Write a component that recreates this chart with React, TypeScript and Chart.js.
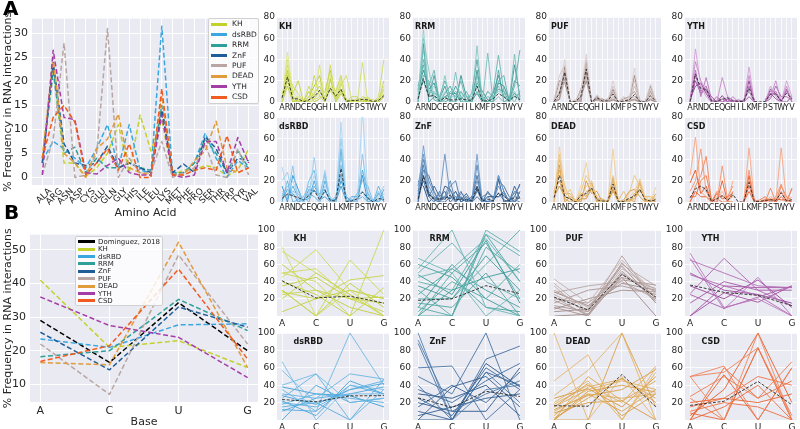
import React, { useEffect, useRef } from "react";
import { Chart, registerables } from "chart.js";
Chart.register(...registerables);

// ---------------- categories & ticks ----------------
const AMINO_ACIDS = ["ALA", "ARG", "ASN", "ASP", "CYS", "GLU", "GLN", "GLY", "HIS", "ILE", "LEU", "LYS", "MET", "PHE", "PRO", "SER", "THR", "TRP", "TYR", "VAL"];
const AA_LETTERS = ["A", "R", "N", "D", "C", "E", "Q", "G", "H", "I", "L", "K", "M", "F", "P", "S", "T", "W", "Y", "V"];
const BASES = ["A", "C", "U", "G"];
const FAMILIES = ["KH", "dsRBD", "RRM", "ZnF", "PUF", "DEAD", "YTH", "CSD"];
const AA_Y_TICKS = [0, 5, 10, 15, 20, 25, 30];
const BASE_Y_TICKS = [10, 20, 30, 40, 50];
const SMALL_AA_Y_TICKS = [0, 20, 40, 60, 80];
const SMALL_BASE_Y_TICKS = [0, 20, 40, 60, 80, 100];

// ---------------- panel A: family means (% per amino acid) ----------------
const KH_AA = [4, 23.5, 3, 3, 0.2, 2, 5, 11, 1, 13, 5.5, 12, 0.5, 1.5, 1.5, 2.5, 2, 0.3, 1.5, 6];
const DSRBD_AA = [3.5, 7.5, 6, 4, 2, 6, 11, 2, 11, 1.5, 1, 31.5, 0.5, 1, 3, 9.2, 4, 0, 3.5, 2];
const RRM_AA = [3, 22, 5, 6.3, 1, 4, 2, 2, 3, 2, 1.5, 15, 1, 1, 3, 8, 5, 1, 5.5, 2];
const ZNF_AA = [3, 24, 7, 3, 2.5, 3, 6.5, 2, 3, 2, 1, 14, 1, 2.8, 1, 8.5, 6, 1, 4, 3.5];
const PUF_AA = [0.5, 8, 28, 0, 0.5, 5, 31, 0, 4, 1, 1, 7.5, 0, 1, 2, 7, 0.5, 0, 6, 0.5];
const DEAD_AA = [4, 25, 5, 3, 0, 6, 8, 13.2, 2, 1, 0.5, 17, 0.5, 0.5, 3.5, 5.5, 11.7, 2, 1, 2];
const YTH_AA = [0.5, 26.5, 12.5, 12, 1, 0.7, 2.5, 4, 1, 0.5, 0.5, 13, 0.5, 0, 0.5, 7.5, 7.5, 1, 8.3, 3];
const CSD_AA = [4, 12.5, 15, 11.5, 0.5, 3, 6, 1.5, 7, 0, 0, 18.5, 0.5, 0.5, 1.5, 2, 1.5, 8.7, 1, 2];

// ---------------- panel B: family means (% per base) ----------------
const DOMINGUEZ_BASE = [29, 16.5, 34.3, 20];
const KH_BASE = [41, 21, 23, 15];
const DSRBD_BASE = [23.5, 21, 27.7, 28];
const RRM_BASE = [18.2, 20, 35.3, 26];
const ZNF_BASE = [25.5, 14.3, 33, 27];
const PUF_BASE = [22, 7, 48.5, 22];
const DEAD_BASE = [16.5, 15.8, 52.3, 15];
const YTH_BASE = [36, 27.5, 24, 12];
const CSD_BASE = [16.8, 21.5, 44.3, 17.5];

// ---------------- panel A small multiples: individual proteins ----------------
const KH_AA_LINES = [
  [2, 47, 10, 3, 0, 5, 10, 20, 2, 25, 5, 20, 0, 2, 2, 3, 2, 0, 1, 10],
  [0, 40, 5, 2, 0, 2, 5, 35, 0, 15, 8, 22, 0, 0, 0, 2, 5, 0, 0, 15],
  [5, 35, 3, 5, 0, 0, 2, 5, 5, 10, 3, 15, 25, 2, 0, 37, 0, 0, 2, 5],
  [3, 28, 15, 8, 0, 15, 3, 10, 2, 35, 2, 10, 0, 0, 0, 0, 2, 0, 5, 40],
  [0, 20, 2, 0, 2, 0, 25, 5, 0, 20, 10, 25, 0, 5, 5, 0, 0, 0, 0, 8],
  [2, 30, 8, 20, 0, 2, 8, 15, 3, 12, 5, 18, 2, 0, 0, 5, 3, 2, 0, 20],
  [0, 15, 0, 2, 0, 10, 0, 3, 10, 30, 0, 8, 0, 2, 0, 0, 2, 0, 3, 12],
  [5, 25, 5, 0, 0, 5, 15, 25, 0, 22, 2, 12, 0, 0, 3, 2, 0, 0, 0, 5],
];
const RRM_AA_LINES = [
  [5, 68, 10, 15, 0, 10, 5, 5, 8, 2, 2, 20, 0, 0, 5, 10, 8, 0, 5, 5],
  [2, 60, 30, 5, 0, 25, 2, 0, 5, 0, 0, 53, 0, 0, 0, 15, 5, 0, 10, 0],
  [10, 50, 8, 10, 2, 5, 0, 28, 0, 5, 5, 15, 0, 46, 0, 5, 0, 0, 45, 2],
  [0, 40, 15, 30, 0, 2, 10, 5, 20, 0, 0, 25, 5, 0, 10, 44, 10, 5, 0, 10],
  [15, 35, 5, 8, 5, 20, 5, 10, 2, 10, 0, 10, 0, 5, 3, 20, 25, 0, 15, 49],
  [3, 25, 20, 2, 0, 8, 15, 2, 10, 2, 8, 40, 2, 0, 0, 30, 0, 3, 5, 8],
  [8, 20, 5, 25, 0, 0, 3, 15, 5, 0, 2, 8, 0, 10, 5, 12, 10, 0, 20, 15],
  [0, 55, 0, 5, 3, 15, 0, 0, 25, 5, 0, 30, 0, 0, 8, 25, 5, 0, 35, 5],
  [12, 30, 12, 18, 0, 5, 8, 8, 0, 0, 0, 18, 10, 2, 0, 18, 15, 2, 8, 3],
];
const DSRBD_AA_LINES = [
  [33, 10, 20, 5, 0, 10, 25, 0, 30, 0, 0, 75, 0, 0, 0, 85, 10, 0, 0, 5],
  [20, 28, 5, 10, 2, 5, 42, 2, 15, 5, 0, 60, 0, 0, 5, 10, 0, 0, 5, 15],
  [10, 5, 34, 0, 5, 15, 10, 5, 25, 0, 2, 45, 0, 3, 0, 45, 5, 0, 10, 0],
  [5, 15, 10, 8, 0, 20, 30, 0, 10, 2, 0, 35, 2, 0, 8, 20, 15, 0, 2, 8],
  [0, 20, 0, 2, 5, 0, 15, 5, 28, 0, 5, 25, 0, 2, 2, 5, 0, 0, 15, 2],
  [8, 3, 15, 5, 0, 8, 5, 0, 20, 3, 0, 50, 0, 0, 0, 30, 8, 0, 0, 12],
  [2, 12, 8, 0, 2, 3, 20, 2, 5, 0, 0, 15, 0, 5, 5, 10, 3, 0, 8, 0],
  [15, 0, 25, 12, 0, 12, 10, 8, 12, 0, 3, 20, 5, 0, 0, 25, 0, 2, 0, 5],
];
const ZNF_AA_LINES = [
  [5, 53, 15, 5, 0, 5, 10, 5, 3, 2, 0, 45, 0, 2, 0, 25, 10, 0, 5, 5],
  [15, 45, 10, 3, 5, 45, 5, 0, 5, 0, 3, 20, 2, 5, 0, 15, 5, 3, 8, 15],
  [0, 40, 20, 8, 2, 5, 20, 0, 8, 5, 0, 35, 0, 0, 2, 25, 10, 0, 2, 0],
  [10, 35, 5, 0, 10, 2, 15, 20, 0, 5, 0, 10, 5, 8, 5, 5, 8, 0, 10, 8],
  [2, 30, 25, 10, 0, 0, 5, 2, 10, 0, 2, 25, 0, 0, 0, 20, 15, 5, 0, 10],
  [8, 20, 5, 15, 5, 10, 0, 5, 2, 8, 0, 5, 0, 10, 3, 8, 2, 0, 15, 3],
  [0, 25, 8, 2, 0, 15, 12, 0, 5, 0, 5, 15, 2, 0, 0, 22, 0, 2, 5, 17],
  [20, 15, 0, 5, 3, 5, 3, 10, 0, 3, 0, 12, 0, 5, 5, 5, 10, 0, 0, 5],
];
const PUF_AA_LINES = [
  [0, 15, 40, 0, 0, 10, 45, 0, 7, 2, 0, 20, 0, 2, 3, 32, 0, 0, 17, 0],
  [2, 25, 35, 0, 0, 8, 40, 0, 5, 0, 2, 15, 0, 0, 2, 20, 0, 0, 12, 0],
  [0, 10, 30, 0, 2, 5, 35, 0, 3, 0, 0, 10, 0, 5, 0, 15, 2, 0, 8, 2],
  [0, 5, 25, 0, 0, 3, 28, 0, 4, 2, 0, 5, 0, 0, 3, 5, 0, 0, 5, 0],
  [0, 2, 22, 0, 0, 2, 25, 0, 2, 0, 0, 3, 0, 0, 0, 3, 0, 0, 3, 0],
  [3, 8, 28, 0, 0, 12, 32, 0, 6, 0, 3, 8, 0, 3, 5, 10, 0, 0, 10, 0],
  [0, 20, 18, 0, 0, 5, 20, 0, 3, 0, 0, 12, 0, 0, 0, 25, 0, 0, 15, 0],
  [0, 3, 33, 0, 0, 0, 38, 0, 2, 3, 0, 2, 0, 0, 2, 2, 0, 0, 2, 0],
];
const DEAD_AA_LINES = [
  [0, 52, 10, 5, 0, 15, 37, 10, 2, 0, 0, 50, 0, 0, 5, 10, 22, 5, 0, 14],
  [5, 45, 5, 12, 0, 10, 25, 15, 5, 0, 2, 25, 0, 0, 8, 25, 15, 0, 3, 5],
  [8, 40, 15, 2, 0, 5, 15, 20, 0, 2, 0, 20, 2, 10, 0, 5, 20, 2, 0, 0],
  [2, 30, 8, 8, 0, 2, 10, 12, 0, 0, 0, 15, 0, 0, 2, 3, 10, 5, 5, 2],
  [10, 20, 3, 0, 0, 8, 5, 18, 3, 3, 0, 10, 0, 0, 3, 0, 18, 0, 0, 8],
  [0, 35, 0, 5, 2, 0, 20, 8, 10, 0, 0, 23, 0, 2, 10, 12, 5, 0, 2, 0],
  [5, 15, 5, 3, 0, 3, 3, 13, 0, 0, 0, 12, 0, 0, 0, 8, 12, 3, 0, 3],
];
const YTH_AA_LINES = [
  [0, 50, 15, 5, 0, 2, 0, 5, 0, 0, 0, 33, 0, null, 0, 15, 5, 0, 20, 5],
  [2, 38, 20, 10, 0, 0, 23, 5, 2, 0, 0, 25, 0, null, 0, 5, 20, 0, 15, 0],
  [0, 30, 5, 23, 2, 0, 3, 0, 5, 0, 2, 10, 0, null, 2, 10, 10, 0, 10, 3],
  [0, 25, 10, 15, 0, 5, 0, 2, 0, 0, 0, 15, 2, null, 0, 3, 15, 5, 5, 2],
  [0, 20, 8, 12, 5, 0, 0, 3, 0, 2, 0, 5, 0, null, 0, 8, 3, 0, 12, 0],
  [3, 15, 18, 8, 0, 0, 6, 0, 0, 0, 0, 20, 0, null, 0, 12, 8, 0, 0, 5],
];
const CSD_AA_LINES = [
  [25, 61, 10, 5, 0, 5, 10, 0, 20, null, 0, 51, 0, 0, 0, 5, 2, 51, 0, 5],
  [10, 20, 50, 10, 0, 0, 34, 2, 5, null, 0, 30, 0, 0, 3, 0, 5, 17, 0, 12],
  [0, 15, 25, 43, 0, 10, 5, 5, 15, null, 0, 20, 2, 0, 0, 13, 0, 10, 0, 0],
  [5, 5, 20, 25, 2, 3, 0, 0, 10, null, 0, 15, 0, 2, 5, 0, 0, 15, 5, 2],
  [0, 10, 5, 5, 0, 0, 20, 0, 0, null, 0, 10, 0, 0, 0, 3, 0, 5, 0, 13],
  [18, 30, 8, 15, 0, 8, 3, 5, 8, null, 0, 25, 0, 0, 2, 2, 3, 2, 2, 0],
];

// ---------------- panel B small multiples: individual proteins ----------------
const KH_BASE_LINES = [
  [80, 0, 30, 0], [75, 50, 25, 0], [50, 55, 20, 15], [45, 77, 30, 20], [50, 40, 0, 100],
  [30, 0, 65, 25], [28, 20, 42, 47], [25, 30, 20, 5], [20, 50, 25, 0], [40, 25, 0, 33],
  [5, 20, 30, 20], [60, 30, 10, 0], [35, 45, 20, 22], [30, 0, 38, 10],
];
const RRM_BASE_LINES = [
  [67, 50, 0, 30], [55, 100, 10, 0], [50, 85, 40, 20], [45, 55, 90, 40], [40, 30, 95, 70],
  [30, 0, 100, 75], [20, 20, 60, 100], [10, 0, 80, 50], [0, 50, 85, 20], [5, 40, 20, 60],
  [15, 10, 50, 0], [0, 0, 95, 40], [25, 55, 30, 10], [60, 45, 10, 5], [35, 20, 70, 30],
  [0, 30, 45, 55], [10, 60, 20, 0], [48, 25, 88, 15],
];
const DSRBD_BASE_LINES = [
  [67, 0, 40, 35], [57, 20, 30, 30], [40, 53, 20, 25], [35, 10, 100, 40], [30, 25, 53, 47],
  [25, 53, 0, 35], [20, 15, 35, 45], [18, 30, 25, 20], [15, 20, 0, 47], [12, 10, 40, 30],
  [10, 25, 30, 38], [0, 40, 20, 25], [22, 5, 45, 30], [28, 18, 35, 42], [38, 30, 28, 15],
];
const ZNF_BASE_LINES = [
  [100, 0, 35, 40], [92, 10, 30, 45], [88, 0, 55, 20], [60, 62, 0, 35], [50, 30, 100, 0],
  [40, 0, 70, 85], [35, 20, 45, 65], [25, 5, 60, 35], [15, 40, 20, 55], [10, 0, 55, 40],
  [5, 15, 25, 30], [0, 38, 50, 15], [20, 10, 10, 60], [30, 25, 40, 5], [0, 0, 65, 38],
];
const PUF_BASE_LINES = [
  [43, 15, 65, 25], [38, 5, 55, 30], [35, 0, 50, 22], [30, 10, 60, 35], [27, 35, 40, 20],
  [25, 5, 70, 15], [22, 0, 48, 28], [20, 15, 45, 32], [18, 2, 52, 18], [15, 30, 35, 25],
  [12, 5, 42, 36], [10, 0, 62, 20], [8, 20, 30, 28], [5, 8, 58, 15], [0, 2, 45, 0], [28, 12, 38, 30],
];
const YTH_BASE_LINES = [
  [73, 10, 20, 0], [67, 8, 45, 0], [65, 50, 35, 33], [48, 35, 24, 0], [26, 67, 30, 12],
  [25, 9, 22, 35], [15, 40, 30, 30], [0, 35, 33, 33], [0, 27, 16, 35], [50, 30, 25, 15], [35, 20, 42, 10],
];
const DEAD_BASE_LINES = [
  [100, 0, 50, 0], [45, 75, 0, 60], [28, 57, 100, 0], [20, 45, 0, 55], [18, 40, 20, 62],
  [15, 35, 45, 35], [10, 30, 25, 30], [5, 38, 47, 25], [0, 50, 22, 45], [0, 30, 10, 35],
  [2, 25, 48, 20], [0, 0, 100, 15], [12, 28, 35, 58], [15, 42, 5, 30], [0, 33, 40, 32],
  [8, 20, 22, 0], [25, 36, 15, 50],
];
const CSD_BASE_LINES = [
  [50, 0, 100, 0], [50, 62, 0, 60], [50, 55, 83, 0], [27, 50, 25, 67], [25, 0, 83, 5],
  [15, 25, 50, 40], [10, 20, 15, 0], [0, 60, 25, 45], [0, 15, 40, 0], [8, 0, 83, 0],
  [20, 25, 20, 30], [0, 52, 0, 60], [5, 35, 100, 20],
];

// ---------------- styles ----------------
const FONT = "'DejaVu Sans', 'Liberation Sans', sans-serif";
const TEXT = "#262626";
const BG = "#EAEAF2";
const STYLE: Record<string, { color: string; light: string; dark: string }> = {
  KH: { color: "#c3d22b", light: "#dde77c", dark: "#b6c71b" },
  dsRBD: { color: "#3ba7e0", light: "#a3d5f3", dark: "#1f8fd0" },
  RRM: { color: "#2f9f99", light: "#8ccdc8", dark: "#1e8a85" },
  ZnF: { color: "#1f5d99", light: "#6a9bcb", dark: "#103d70" },
  PUF: { color: "#b9a6a2", light: "#dacdca", dark: "#8c726d" },
  DEAD: { color: "#e19b3b", light: "#f1cc8e", dark: "#cf8a22" },
  YTH: { color: "#a43ea6", light: "#d29ad3", dark: "#8a2a8c" },
  CSD: { color: "#f15b1f", light: "#f8a27d", dark: "#e4470c" },
};
const DOMINGUEZ_COLOR = "#000000";

const AA_MEANS: Record<string, (number | null)[]> = { KH: KH_AA, dsRBD: DSRBD_AA, RRM: RRM_AA, ZnF: ZNF_AA, PUF: PUF_AA, DEAD: DEAD_AA, YTH: YTH_AA, CSD: CSD_AA };
const BASE_MEANS: Record<string, number[]> = { KH: KH_BASE, dsRBD: DSRBD_BASE, RRM: RRM_BASE, ZnF: ZNF_BASE, PUF: PUF_BASE, DEAD: DEAD_BASE, YTH: YTH_BASE, CSD: CSD_BASE };
const AA_LINES: Record<string, (number | null)[][]> = { KH: KH_AA_LINES, dsRBD: DSRBD_AA_LINES, RRM: RRM_AA_LINES, ZnF: ZNF_AA_LINES, PUF: PUF_AA_LINES, DEAD: DEAD_AA_LINES, YTH: YTH_AA_LINES, CSD: CSD_AA_LINES };
const BASE_LINES: Record<string, number[][]> = { KH: KH_BASE_LINES, dsRBD: DSRBD_BASE_LINES, RRM: RRM_BASE_LINES, ZnF: ZNF_BASE_LINES, PUF: PUF_BASE_LINES, DEAD: DEAD_BASE_LINES, YTH: YTH_BASE_LINES, CSD: CSD_BASE_LINES };

// grid of small multiples (row-major)
const SMALL_ORDER = [["KH", "RRM", "PUF", "YTH"], ["dsRBD", "ZnF", "DEAD", "CSD"]];

// ---------------- geometry ----------------
type Geo = { L: number; T: number; R: number; B: number; yW: number; xH: number; pt: number; pr: number };
const GEO_A_MAIN: Geo = { L: 32, T: 16, R: 259, B: 185, yW: 32, xH: 36, pt: 8, pr: 8 };
const GEO_B_MAIN: Geo = { L: 30, T: 232, R: 258, B: 402, yW: 30, xH: 27, pt: 8, pr: 8 };
const COL_L = [277, 413, 549, 685];
const SMALL_W = 112;
const ROWS_A = [[17, 102], [117, 202]];
const ROWS_B = [[230, 316], [333, 420]];

function hexToRgb(h: string) {
  const n = parseInt(h.slice(1), 16);
  return [(n >> 16) & 255, (n >> 8) & 255, n & 255];
}
function mix(a: string, b: string, t: number, alpha: number) {
  const A = hexToRgb(a), B = hexToRgb(b);
  const c = A.map((v, i) => Math.round(v + (B[i] - v) * t));
  return `rgba(${c[0]},${c[1]},${c[2]},${alpha})`;
}

const bgPlugin = {
  id: "bgFill",
  beforeDraw(chart: any) {
    const { ctx, chartArea: a } = chart;
    ctx.save();
    ctx.fillStyle = BG;
    ctx.fillRect(a.left, a.top, a.right - a.left, a.bottom - a.top);
    ctx.restore();
  },
};

function series(values: (number | null)[], color: string, width: number, dash: number[], order: number) {
  return {
    data: values.map((v, i) => ({ x: i, y: v })),
    borderColor: color,
    backgroundColor: color,
    borderWidth: width,
    borderDash: dash,
    borderCapStyle: "butt",
    borderJoinStyle: "round",
    pointRadius: 0,
    fill: false,
    spanGaps: false,
    tension: 0,
    order,
  };
}

function buildConfig(p: any) {
  const g: Geo = p.geo;
  return {
    type: "line",
    data: { datasets: p.datasets },
    plugins: [bgPlugin],
    options: {
      animation: false,
      responsive: false,
      devicePixelRatio: 1,
      events: [],
      layout: { padding: { top: g.pt, right: g.pr, left: 0, bottom: 0 } },
      plugins: { legend: { display: false }, tooltip: { enabled: false }, title: { display: false } },
      scales: {
        x: {
          type: "linear",
          min: p.xMin,
          max: p.xMax,
          bounds: "data",
          afterBuildTicks: (s: any) => { s.ticks = p.xTicks.map((v: number) => ({ value: v })); },
          afterFit: (s: any) => { s.height = g.xH; },
          ticks: {
            autoSkip: false,
            maxRotation: p.xRot || 0,
            minRotation: p.xRot || 0,
            labelOffset: p.xLabelOffset || 0,
            padding: p.xPad,
            font: { family: FONT, size: p.xFont },
            color: TEXT,
            callback: (v: number) => p.xLabels[v] ?? "",
          },
          grid: { color: "#ffffff", lineWidth: p.gridW, drawTicks: false },
          border: { display: false },
          title: p.xTitle
            ? { display: true, text: p.xTitle, font: { family: FONT, size: 11 }, color: TEXT, padding: { top: 0, bottom: p.xTitlePad ?? 1 } }
            : { display: false },
        },
        y: {
          type: "linear",
          min: p.yMin,
          max: p.yMax,
          bounds: "data",
          afterBuildTicks: (s: any) => { s.ticks = p.yTicks.map((v: number) => ({ value: v })); },
          afterFit: (s: any) => { s.width = g.yW; },
          ticks: {
            autoSkip: false,
            padding: p.yPad,
            font: { family: FONT, size: p.yFont },
            color: TEXT,
            callback: (v: number) => (p.hideZero && v === 0 ? "" : String(v)),
          },
          grid: { color: "#ffffff", lineWidth: p.gridW, drawTicks: false },
          border: { display: false },
          title: p.yTitle
            ? { display: true, text: p.yTitle, font: { family: FONT, size: 11 }, color: TEXT, padding: { top: 2, bottom: 0 } }
            : { display: false },
        },
      },
    },
  };
}

function ChartCanvas({ geo, make }: { geo: Geo; make: () => any }) {
  const ref = useRef<HTMLCanvasElement>(null);
  const left = geo.L - geo.yW;
  const top = geo.T - geo.pt;
  const width = geo.R - geo.L + geo.yW + geo.pr;
  const height = geo.B - geo.T + geo.pt + geo.xH;
  useEffect(() => {
    const chart = new Chart(ref.current as HTMLCanvasElement, make());
    return () => chart.destroy();
  }, []);
  return <canvas ref={ref} width={width} height={height} style={{ position: "absolute", left, top, width, height }} />;
}

function mainAConfig() {
  const n = FAMILIES.length;
  const datasets = FAMILIES.map((f, i) => series(AA_MEANS[f], STYLE[f].color, 1.5, [5, 2.6], n - i));
  return buildConfig({
    geo: GEO_A_MAIN, datasets,
    xMin: -0.95, xMax: 19.95, xTicks: AMINO_ACIDS.map((_, i) => i), xLabels: AMINO_ACIDS,
    xRot: 45, xLabelOffset: 8, xPad: 1, xFont: 9, xTitle: "Amino Acid", xTitlePad: 1,
    yMin: -1.575, yMax: 33.075, yTicks: AA_Y_TICKS, yPad: 4, yFont: 11,
    yTitle: "% Frequency in RNA interactions", gridW: 1,
  });
}

function mainBConfig() {
  const n = FAMILIES.length + 1;
  const datasets = [series(DOMINGUEZ_BASE, DOMINGUEZ_COLOR, 1.5, [5, 2.6], n)].concat(
    FAMILIES.map((f, i) => series(BASE_MEANS[f], STYLE[f].color, 1.5, [5, 2.6], n - 1 - i))
  );
  return buildConfig({
    geo: GEO_B_MAIN, datasets,
    xMin: -0.15, xMax: 3.15, xTicks: [0, 1, 2, 3], xLabels: BASES, xPad: 3, xFont: 11,
    xTitle: "Base", xTitlePad: 0,
    yMin: 4.73, yMax: 54.57, yTicks: BASE_Y_TICKS, yPad: 4, yFont: 11,
    yTitle: "% Frequency in RNA interactions", gridW: 1,
  });
}

function smallConfig(fam: string, kind: "aa" | "base", geo: Geo) {
  const lines = kind === "aa" ? AA_LINES[fam] : BASE_LINES[fam];
  const mean = kind === "aa" ? AA_MEANS[fam] : BASE_MEANS[fam];
  const st = STYLE[fam];
  const n = lines.length;
  const datasets: any[] = [series(mean, "rgba(40,40,40,0.9)", 1, [3, 1.6], 0)];
  lines.forEach((l, i) => {
    const t = n > 1 ? i / (n - 1) : 0.5;
    datasets.push(series(l, mix(st.light, st.dark, kind === "aa" ? t : 0.35 + 0.5 * t, 0.85), 1, [], 10 + i));
  });
  if (kind === "aa") {
    return buildConfig({
      geo, datasets,
      xMin: -0.95, xMax: 19.95, xTicks: AA_LETTERS.map((_, i) => i), xLabels: AA_LETTERS, xPad: 1, xFont: 8,
      yMin: 0, yMax: 80, yTicks: SMALL_AA_Y_TICKS, yPad: 2, yFont: 9, gridW: 0.8,
    });
  }
  return buildConfig({
    geo, datasets,
    xMin: -0.15, xMax: 3.15, xTicks: [0, 1, 2, 3], xLabels: BASES, xPad: 2, xFont: 9,
    yMin: 0, yMax: 100, yTicks: SMALL_BASE_Y_TICKS, yPad: 2, yFont: 9, hideZero: true, gridW: 0.8,
  });
}

function Legend({ box, rows, sampleX, sampleW, textX, rowY, rowStep, fontSize }: any) {
  return (
    <>
      <div
        style={{
          position: "absolute", left: box[0], top: box[1], width: box[2], height: box[3],
          background: "rgba(255,255,255,0.8)", border: "1px solid #d0d0d0", borderRadius: 2, boxSizing: "border-box",
        }}
      />
      {rows.map((r: any, i: number) => {
        const cy = rowY + rowStep * i;
        return (
          <React.Fragment key={r.label}>
            <div style={{ position: "absolute", left: sampleX, top: cy - 1.5, width: sampleW, height: 3, background: r.color }} />
            <div
              style={{
                position: "absolute", left: textX, top: cy - 5, height: 10, lineHeight: "10px",
                fontFamily: FONT, fontSize, color: TEXT, whiteSpace: "nowrap",
              }}
            >
              {r.label}
            </div>
          </React.Fragment>
        );
      })}
    </>
  );
}

export default function App() {
  const smallA: any[] = [];
  const smallB: any[] = [];
  SMALL_ORDER.forEach((row, ri) =>
    row.forEach((fam, ci) => {
      const L = COL_L[ci];
      const gA: Geo = { L, T: ROWS_A[ri][0], R: L + SMALL_W, B: ROWS_A[ri][1], yW: 20, xH: 12, pt: 8, pr: 3 };
      const gB: Geo = { L, T: ROWS_B[ri][0], R: L + SMALL_W, B: ROWS_B[ri][1], yW: 22, xH: 12, pt: 8, pr: 3 };
      smallA.push({ fam, g: gA });
      smallB.push({ fam, g: gB });
    })
  );

  const legendA = FAMILIES.map((f) => ({ label: f, color: STYLE[f].color }));
  const legendB = [{ label: "Dominguez, 2018", color: DOMINGUEZ_COLOR }].concat(legendA);

  const titleStyle = (left: number, cy: number): React.CSSProperties => ({
    position: "absolute", left, top: cy - 5, height: 10, lineHeight: "10px",
    fontFamily: FONT, fontSize: 8, fontWeight: "bold", color: "#1a1a1a", whiteSpace: "nowrap",
  });

  return (
    <div style={{ position: "absolute", left: 0, top: 0, width: 800, height: 429, overflow: "hidden", background: "#ffffff" }}>
      <ChartCanvas geo={GEO_A_MAIN} make={mainAConfig} />
      <ChartCanvas geo={GEO_B_MAIN} make={mainBConfig} />
      {smallA.map((s) => (
        <ChartCanvas key={"a" + s.fam} geo={s.g} make={() => smallConfig(s.fam, "aa", s.g)} />
      ))}
      {smallB.map((s) => (
        <ChartCanvas key={"b" + s.fam} geo={s.g} make={() => smallConfig(s.fam, "base", s.g)} />
      ))}
      {smallA.map((s) => (
        <div key={"ta" + s.fam} style={titleStyle(s.g.L + 2, s.g.T + 9.5)}>{s.fam}</div>
      ))}
      {smallB.map((s) => (
        <div key={"tb" + s.fam} style={titleStyle(s.g.L + 16.5, s.g.T + 8.7)}>{s.fam}</div>
      ))}
      <Legend box={[208, 18, 51, 86]} rows={legendA} sampleX={211} sampleW={16} textX={232} rowY={24.3} rowStep={10.4} fontSize={7.5} />
      <Legend box={[75, 236, 88, 70]} rows={legendB} sampleX={78} sampleW={17} textX={98} rowY={241.7} rowStep={7.4} fontSize={7} />
      <div style={{ position: "absolute", left: 3, top: -2, fontFamily: FONT, fontSize: 20, fontWeight: "bold", lineHeight: "20px", color: "#000" }}>A</div>
      <div style={{ position: "absolute", left: 4, top: 202, fontFamily: FONT, fontSize: 20, fontWeight: "bold", lineHeight: "20px", color: "#000" }}>B</div>
    </div>
  );
}
